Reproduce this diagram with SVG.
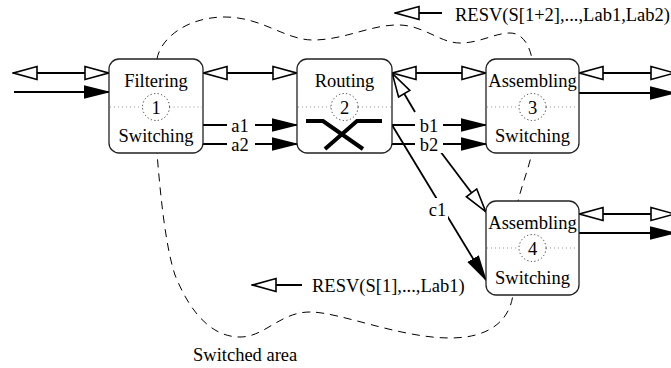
<svg xmlns="http://www.w3.org/2000/svg" width="671" height="368" viewBox="0 0 671 368">
<style>
text{font-family:"Liberation Serif","Times New Roman",serif;font-size:18.5px;fill:#000}
.c{text-anchor:middle}
.box{fill:#fff;stroke:#222;stroke-width:1.3}
.dl{stroke:#999;stroke-width:1;stroke-dasharray:1 3}
.cir{fill:none;stroke:#333;stroke-width:1;stroke-dasharray:1.2 2.4}
.ln{fill:none;stroke:#000;stroke-width:1.8}
.bg{fill:#fff}
.area{fill:none;stroke:#000;stroke-width:1;stroke-dasharray:8 6}
</style>
<defs>
<marker id="op" viewBox="0 0 27 16" refX="25.5" refY="8" markerWidth="27" markerHeight="16" orient="auto-start-reverse" markerUnits="userSpaceOnUse">
<path d="M1.5,1.5 L25,8 L1.5,14.5 Z" fill="#fff" stroke="#000" stroke-width="1.6" stroke-linejoin="miter"/>
</marker>
<marker id="fl" viewBox="0 0 27 16" refX="25" refY="8" markerWidth="27" markerHeight="16" orient="auto" markerUnits="userSpaceOnUse">
<path d="M0,1.3 L27,8 L0,14.7 Z" fill="#000"/>
</marker>
</defs>
<rect width="671" height="368" fill="#fff"/>
<path class="area" d="M157,59 C160,40 185,17 225,17 C262,17 285,40 313,40 C345,40 372,24 400,25 C425,26 440,43 460,43 C480,43 495,33 510,33 C524,33 530,48 532,59 L532,153 C528,170 522,185 518,201 L513,294 C510,320 490,338 450,338 C400,338 340,312 310,312 C280,312 265,337 240,337 C205,337 185,300 175,275 C165,245 160,190 157,153 Z"/>
<g id="connectors">
<path class="ln" d="M13,73 L109,73" marker-start="url(#op)" marker-end="url(#op)"/>
<path class="ln" d="M14,92 L109,92" marker-end="url(#fl)"/>
<path class="ln" d="M203,73 L297,73" marker-start="url(#op)" marker-end="url(#op)"/>
<path class="ln" d="M203,125 L297,125" marker-end="url(#fl)"/>
<path class="ln" d="M203,144 L297,144" marker-end="url(#fl)"/>
<path class="ln" d="M392,73 L486,73" marker-start="url(#op)" marker-end="url(#op)"/>
<path class="ln" d="M415,112 L392,73" marker-end="url(#op)"/>
<path class="ln" d="M392,125 L486,125" marker-end="url(#fl)"/>
<path class="ln" d="M392,144 L486,144" marker-end="url(#fl)"/>
<path class="ln" d="M392,125 L486,280" marker-end="url(#fl)"/>
<path class="ln" d="M440,151 L486,212" marker-end="url(#op)"/>
<path class="ln" d="M579,73 L675,73" marker-start="url(#op)" marker-end="url(#op)"/>
<path class="ln" d="M579,93 L675,93" marker-end="url(#fl)"/>
<path class="ln" d="M579,214 L675,214" marker-start="url(#op)" marker-end="url(#op)"/>
<path class="ln" d="M579,233 L675,233" marker-end="url(#fl)"/>
<path class="ln" d="M442,13 L395,13" marker-end="url(#op)"/>
<path class="ln" d="M302,285 L252,285" marker-end="url(#op)"/>
<rect class="bg" x="227" y="116" width="28" height="18"/>
<rect class="bg" x="227" y="135" width="28" height="18"/>
<rect class="bg" x="415" y="116" width="28" height="18"/>
<rect class="bg" x="415" y="135" width="28" height="18"/>
<rect class="bg" x="427" y="198" width="21" height="22"/>
<text class="c" x="240" y="131.5">a1</text>
<text class="c" x="240" y="150.5">a2</text>
<text class="c" x="429" y="131.5">b1</text>
<text class="c" x="429" y="150.5">b2</text>
<text class="c" x="437.5" y="215.5">c1</text>
</g>
<g id="node1">
<rect class="box" x="109" y="59" width="94" height="94" rx="10"/>
<path class="dl" d="M110,107 H142.5 M169.5,107 H202"/>
<circle class="cir" cx="156" cy="107" r="13.5"/>
<text class="c" x="156" y="87">Filtering</text>
<text class="c" x="156" y="113.5">1</text>
<text class="c" x="156" y="142">Switching</text>
</g>
<g id="node2">
<rect class="box" x="297" y="59" width="95" height="94" rx="10"/>
<path class="dl" d="M298,107 H331 M358,107 H391"/>
<circle class="cir" cx="344.5" cy="107" r="13.5"/>
<text class="c" x="344.5" y="87">Routing</text>
<text class="c" x="344.5" y="113.5">2</text>
<path d="M306,121 L323,121 L363,149 M382,121 L357,121 L325,149" fill="none" stroke="#000" stroke-width="4"/>
</g>
<g id="node3">
<rect class="box" x="486" y="59" width="93" height="94" rx="10"/>
<path class="dl" d="M487,107 H519 M546,107 H578"/>
<circle class="cir" cx="532.5" cy="107" r="13.5"/>
<text class="c" x="532.5" y="87">Assembling</text>
<text class="c" x="532.5" y="113.5">3</text>
<text class="c" x="532.5" y="142">Switching</text>
</g>
<g id="node4">
<rect class="box" x="486" y="201" width="93" height="94" rx="10"/>
<path class="dl" d="M487,248 H519 M546,248 H578"/>
<circle class="cir" cx="532.5" cy="248" r="13.5"/>
<text class="c" x="532.5" y="228.5">Assembling</text>
<text class="c" x="532.5" y="254.5">4</text>
<text class="c" x="532.5" y="283.5">Switching</text>
</g>
<g id="labels">
<text x="455" y="20.5">RESV(S[1+2],...,Lab1,Lab2)</text>
<text x="312" y="292">RESV(S[1],...,Lab1)</text>
<text x="193" y="361">Switched area</text>
</g>
</svg>
